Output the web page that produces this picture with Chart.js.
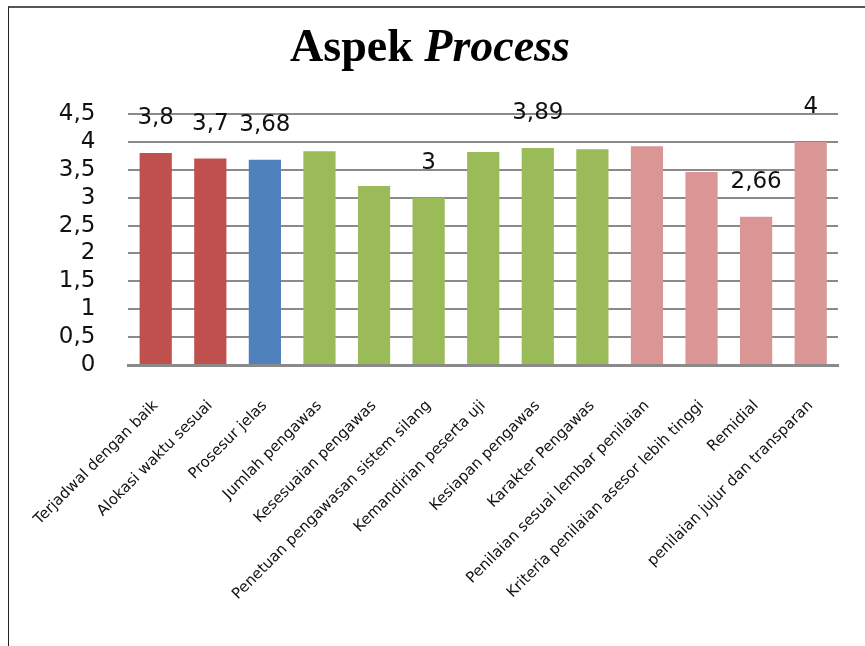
<!DOCTYPE html>
<html>
<head>
<meta charset="utf-8">
<script src="https://cdn.jsdelivr.net/npm/chart.js@4"></script>
<style>
  html, body { margin: 0; padding: 0; background: #fff; }
  #wrap { position: relative; width: 865px; height: 646px; }
  #frame { position: absolute; left: 8px; top: 6px; right: 0; bottom: 0; border-left: 1px solid #222; border-top: 2px solid #555; }
</style>
</head>
<body>
<div id="wrap">
  <div id="frame"></div>
  <canvas id="grafico" width="865" height="646"></canvas>
</div>
<script>
const kategori = [
  'Terjadwal dengan baik', 'Alokasi waktu sesuai', 'Prosesur jelas', 'Jumlah pengawas',
  'Kesesuaian pengawas', 'Penetuan pengawasan sistem silang', 'Kemandirian peserta uji',
  'Kesiapan pengawas', 'Karakter Pengawas', 'Penilaian sesuai lembar penilaian',
  'Kriteria penilaian asesor lebih tinggi', 'Remidial', 'penilaian jujur dan transparan'
];
const nilai = [3.8, 3.7, 3.68, 3.83, 3.21, 3, 3.82, 3.89, 3.87, 3.92, 3.46, 2.66, 4];
// label hanya muncul di beberapa batang
const labelNilai = ['3,8', '3,7', '3,68', null, null, '3', null, '3,89', null, null, null, '2,66', '4'];
const warnaBatang = [
  '#C0504D', '#C0504D', '#4F81BD', '#9BBB59', '#9BBB59', '#9BBB59', '#9BBB59',
  '#9BBB59', '#9BBB59', '#D99694', '#D99694', '#D99694', '#D99694'
];
const judulBiasa = 'Aspek ';
const judulMiring = 'Process';

const judulPlugin = {
  id: 'judul',
  afterDraw(chart) {
    const ctx = chart.ctx;
    ctx.save();
    ctx.fillStyle = '#000';
    ctx.textBaseline = 'alphabetic';
    ctx.textAlign = 'left';
    const f1 = 'bold 46px "Liberation Serif", "Times New Roman", serif';
    const f2 = 'italic bold 46px "Liberation Serif", "Times New Roman", serif';
    ctx.font = f1;
    const w1 = ctx.measureText(judulBiasa).width;
    ctx.font = f2;
    const w2 = ctx.measureText(judulMiring).width;
    const x0 = 430 - (w1 + w2) / 2;
    ctx.font = f1;
    ctx.fillText(judulBiasa, x0, 61);
    ctx.font = f2;
    ctx.fillText(judulMiring, x0 + w1, 61);
    ctx.restore();
  }
};

const labelPlugin = {
  id: 'labelNilai',
  afterDatasetsDraw(chart) {
    const ctx = chart.ctx;
    const meta = chart.getDatasetMeta(0);
    ctx.save();
    ctx.font = '23px "DejaVu Sans", sans-serif';
    ctx.fillStyle = '#111';
    ctx.textAlign = 'center';
    ctx.textBaseline = 'middle';
    meta.data.forEach((bar, i) => {
      if (labelNilai[i] == null) return;
      ctx.fillText(labelNilai[i], bar.x, bar.y - 35);
    });
    ctx.restore();
  }
};

const ctx = document.getElementById('grafico').getContext('2d');
new Chart(ctx, {
  type: 'bar',
  data: {
    labels: kategori,
    datasets: [{
      data: nilai,
      backgroundColor: warnaBatang,
      borderWidth: 0,
      barPercentage: 0.59,
      categoryPercentage: 1
    }]
  },
  options: {
    responsive: false,
    animation: false,
    layout: { padding: { top: 114, right: 27, bottom: 0, left: 0 } },
    plugins: {
      legend: { display: false },
      tooltip: { enabled: false }
    },
    scales: {
      x: {
        grid: { display: false, drawTicks: false },
        border: { display: true, color: '#8a8a8a', width: 3 },
        ticks: {
          color: '#111',
          font: { family: '"DejaVu Sans", sans-serif', size: 15 },
          minRotation: 45,
          maxRotation: 45,
          autoSkip: false,
          padding: 32
        },
        afterFit(scale) { scale.height = 281; }
      },
      y: {
        min: 0,
        max: 4.5,
        grid: { color: '#8a8a8a', lineWidth: 2, drawTicks: false },
        border: { display: false },
        ticks: {
          stepSize: 0.5,
          autoSkip: false,
          color: '#111',
          padding: 33,
          font: { family: '"DejaVu Sans", sans-serif', size: 23, lineHeight: 1 },
          callback: v => String(v).replace('.', ',')
        },
        afterFit(scale) { scale.width = 126; }
      }
    }
  },
  plugins: [judulPlugin, labelPlugin]
});
</script>
</body>
</html>
